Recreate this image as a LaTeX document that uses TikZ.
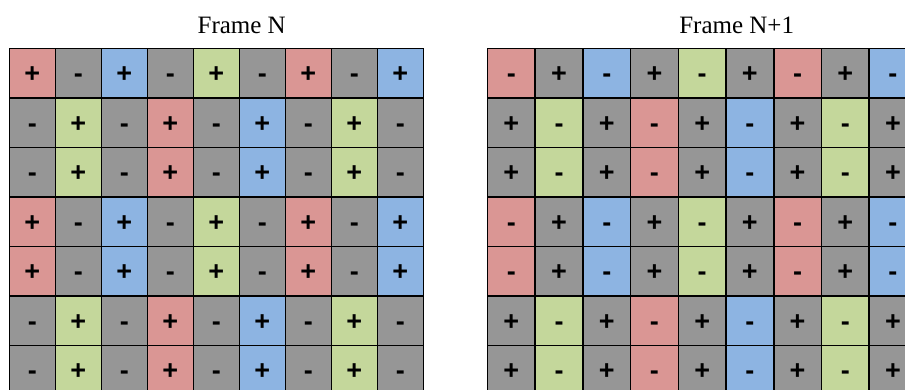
\documentclass[tikz,border=0pt]{standalone}
\usepackage{fontspec}
\setmainfont{Liberation Serif}
\newfontfamily\signfont{Liberation Sans}
\usetikzlibrary{positioning}

\definecolor{cellred}{RGB}{218,150,148}
\definecolor{cellgray}{RGB}{150,150,150}
\definecolor{cellblue}{RGB}{141,180,226}
\definecolor{cellgreen}{RGB}{196,215,155}

\begin{document}
\begin{tikzpicture}[x=1pt, y=-1pt,
            cell/.style={draw=black, line width=1.6pt, anchor=north west, minimum height=49.5pt, inner sep=0pt, text height=19.5pt, text depth=0pt, font=\signfont\bfseries\fontsize{27}{27}\selectfont},
            frametitle/.style={anchor=base, inner sep=0pt, font=\fontsize{25}{25}\selectfont}
        ]
        \useasboundingbox (0,0) rectangle (905,389);
        \clip (0,0) rectangle (905,389);

        % Titel
        \node[frametitle] (tN) at (241.7,33.3) {Frame N};
        \node[frametitle] (tN1) at (736.7,33.3) {Frame N+1};

        % Raster: Zeilentyp s=0 (rot/blau/gruen oben) bzw. s=1
        \foreach \g/\gx/\gw/\inv in {L/8.5/46/0, R/486.7/47.7/1} {
            \foreach \r/\s in {1/0, 2/1, 3/1, 4/0, 5/0, 6/1, 7/1} {
                \foreach \c/\ca/\cb in {1/cellred/cellgray, 2/cellgray/cellgreen, 3/cellblue/cellgray, 4/cellgray/cellred, 5/cellgreen/cellgray, 6/cellgray/cellblue, 7/cellred/cellgray, 8/cellgray/cellgreen, 9/cellblue/cellgray} {
                    \ifnum\s=0 \def\col{\ca}\else\def\col{\cb}\fi
                    \pgfmathtruncatemacro\odd{mod(\c+\s+\inv,2)}
                    \ifnum\odd=1 \def\sgn{+}\else\def\sgn{-}\fi
                    \node[cell, fill=\col, minimum width=\gw pt] (\g-\r-\c) at ({\gx+(\c-1)*\gw}, {47.5+(\r-1)*49.5}) {\sgn};
                }
            }
        }

    \end{tikzpicture}
\end{document}
